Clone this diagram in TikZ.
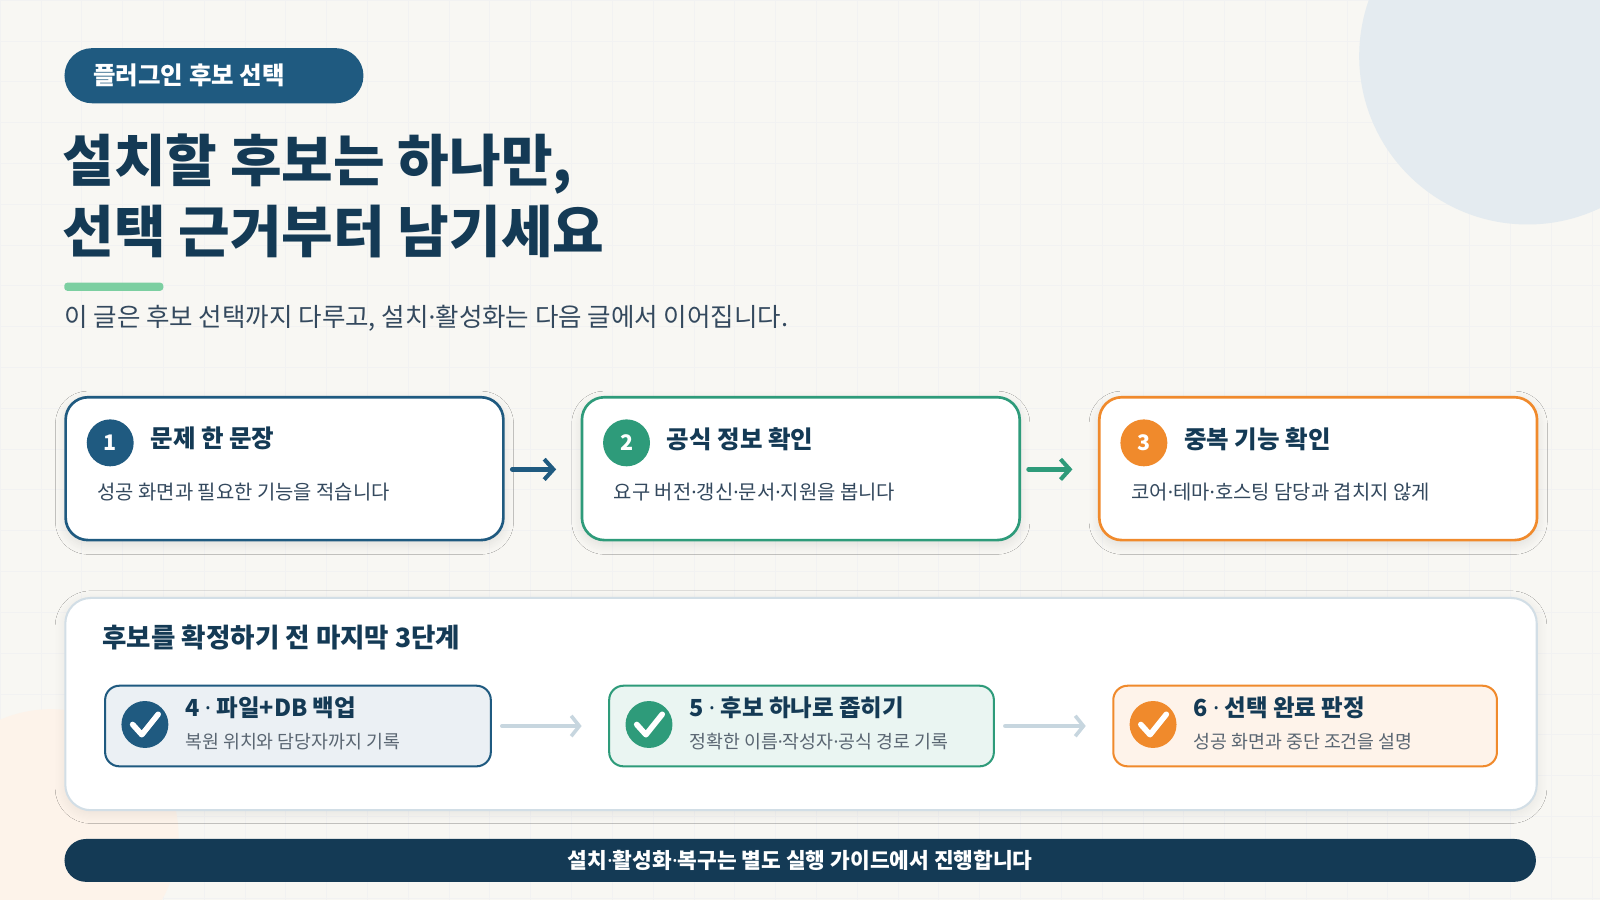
\documentclass[tikz,border=0pt]{standalone}
\usepackage{fontspec}
\setmainfont{Noto Sans CJK KR}
\newfontfamily\lat{Noto Sans}
\newcommand\md{{\lat·}}
\usetikzlibrary{shadows.blur,arrows.meta}
\definecolor{bg}{HTML}{F8F7F3}
\definecolor{navy}{HTML}{143A55}
\definecolor{blu}{HTML}{1F5A80}
\definecolor{grn}{HTML}{2E9B7A}
\definecolor{org}{HTML}{F08A2C}
\definecolor{txt}{HTML}{34495E}
\definecolor{gry}{HTML}{5A6672}
\begin{document}
\begin{tikzpicture}[x=1pt,y=-1pt,
 card/.style={draw=#1,line width=2.6pt,fill=white,rounded corners=22pt,blur shadow={shadow blur steps=10,shadow blur radius=10pt,shadow xshift=0pt,shadow yshift=-4pt,shadow opacity=10}},
 sub/.style={draw=#1,line width=2pt,rounded corners=14pt},
 num/.style={circle,fill=#1,minimum size=46pt,inner sep=0pt,text=white,font=\bfseries\fontsize{21}{21}\selectfont},
 chk/.style={circle,fill=#1,minimum size=46pt,inner sep=0pt},
 ttl/.style={anchor=west,text=navy,font=\bfseries\fontsize{24}{26}\selectfont},
 dsc/.style={anchor=west,text=txt,font=\fontsize{19.5}{22}\selectfont},
 sdsc/.style={anchor=west,text=gry,font=\fontsize{18}{22}\selectfont},
 arr/.style={-{Straight Barb[length=9pt,width=20pt,line width=4pt]},line width=4.5pt,line cap=round,#1},
 garr/.style={-{Straight Barb[length=8pt,width=20pt,line width=3.5pt]},line width=4pt,line cap=round,color=blu!25}]
\useasboundingbox (0,0) rectangle (1568,882);
\fill[bg] (0,0) rectangle (1568,882);
\begin{scope}
\clip (0,0) rectangle (1568,882);
\foreach \i in {0,40,...,1560} \draw[black!5,line width=0.6pt] (\i,0) -- (\i,882);
\foreach \j in {0,40,...,880} \draw[black!5,line width=0.6pt] (0,\j) -- (1568,\j);
\fill[blu!12!white] (1497,55) circle (165);
\fill[org!10!white] (50,820) circle (125);
\end{scope}
% pill
\node[fill=blu,rounded corners=27pt,minimum width=293pt,minimum height=54pt,anchor=north west,inner sep=0pt] (pill) at (63,47) {};
\node[anchor=west,text=white,font=\bfseries\fontsize{24}{24}\selectfont] (pt) at (88,74) {플러그인 후보 선택};
\node[anchor=west,text=navy,font=\bfseries\fontsize{55}{70}\selectfont,align=left,inner sep=0pt] (title) at (61,192) {설치할 후보는 하나만,\\선택 근거부터 남기세요};
\fill[grn!80!green!60!white,rounded corners=3pt] (63,277) rectangle (160,285);
\node[anchor=west,text=txt,font=\fontsize{25}{27}\selectfont,inner sep=0pt] (subt) at (63,312) {이 글은 후보 선택까지 다루고, 설치\md 활성화는 다음 글에서 이어집니다.};
% cards
\node[card=blu,minimum width=429pt,minimum height=140pt,anchor=north west] (c1) at (63,388) {};
\node[card=grn,minimum width=429pt,minimum height=140pt,anchor=north west] (c2) at (569,388) {};
\node[card=org,minimum width=429pt,minimum height=140pt,anchor=north west] (c3) at (1076,388) {};
\node[num=blu] (n1) at (108,434) {1};
\node[num=grn] (n2) at (614,434) {2};
\node[num=org] (n3) at (1121,434) {3};
\node[ttl] (t1) at (144,430) {문제 한 문장};
\node[ttl] (t2) at (650,430) {공식 정보 확인};
\node[ttl] (t3) at (1157,430) {중복 기능 확인};
\node[dsc] (d1) at (92,482) {성공 화면과 필요한 기능을 적습니다};
\node[dsc] (d2) at (598,482) {요구 버전\md 갱신\md 문서\md 지원을 봅니다};
\node[dsc] (d3) at (1105,482) {코어\md 테마\md 호스팅 담당과 겹치지 않게};
\coordinate (a1s) at (502,460); \coordinate (a1e) at (545,460);
\coordinate (a2s) at (1008,460); \coordinate (a2e) at (1051,460);
\draw[arr=blu] (a1s) -- (a1e);
\draw[arr=grn] (a2s) -- (a2e);
% panel
\node[draw=blu!20,line width=2pt,fill=white,rounded corners=25pt,minimum width=1442pt,minimum height=208pt,anchor=north west,blur shadow={shadow blur steps=10,shadow blur radius=10pt,shadow xshift=0pt,shadow yshift=-3pt,shadow opacity=8}] (panel) at (63,585) {};
\node[ttl,font=\bfseries\fontsize{26}{28}\selectfont] (pt2) at (97,625) {후보를 확정하기 전 마지막 3단계};
\node[sub=blu,fill=blu!9,minimum width=378pt,minimum height=79pt,anchor=north west] (s1) at (102,671) {};
\node[sub=grn,fill=grn!10,minimum width=377pt,minimum height=79pt,anchor=north west] (s2) at (596,671) {};
\node[sub=org,fill=org!10,minimum width=376pt,minimum height=79pt,anchor=north west] (s3) at (1090,671) {};
\foreach \n/\c/\x in {k1/blu/142,k2/grn/636,k3/org/1130}{
 \node[chk=\c] (\n) at (\x,710) {};
 \draw[white,line width=5.5pt,line cap=round,line join=round] (\x-12,710) -- (\x-3,720) -- (\x+13,700);
}
\node[ttl,font=\bfseries\fontsize{23}{25}\selectfont] (st1) at (178,694) {4 \md\ 파일+DB 백업};
\node[ttl,font=\bfseries\fontsize{23}{25}\selectfont] (st2) at (672,694) {5 \md\ 후보 하나로 좁히기};
\node[ttl,font=\bfseries\fontsize{23}{25}\selectfont] (st3) at (1166,694) {6 \md\ 선택 완료 판정};
\node[sdsc] (sd1) at (178,727) {복원 위치와 담당자까지 기록};
\node[sdsc] (sd2) at (672,727) {정확한 이름\md 작성자\md 공식 경로 기록};
\node[sdsc] (sd3) at (1166,727) {성공 화면과 중단 조건을 설명};
\draw[garr] (s1.east) ++(10,0) coordinate (g1) -- ([xshift=-26pt]s2.west);
\draw[garr] (s2.east) ++(10,0) coordinate (g2) -- ([xshift=-26pt]s3.west);
% bottom bar
\node[fill=navy,rounded corners=21pt,minimum width=1442pt,minimum height=42pt,anchor=north west,inner sep=0pt] (bar) at (63,822) {};
\node[text=white,font=\bfseries\fontsize{21}{21}\selectfont] (bt) at (bar.center) {설치\md 활성화\md 복구는 별도 실행 가이드에서 진행합니다};
\end{tikzpicture}
\end{document}
